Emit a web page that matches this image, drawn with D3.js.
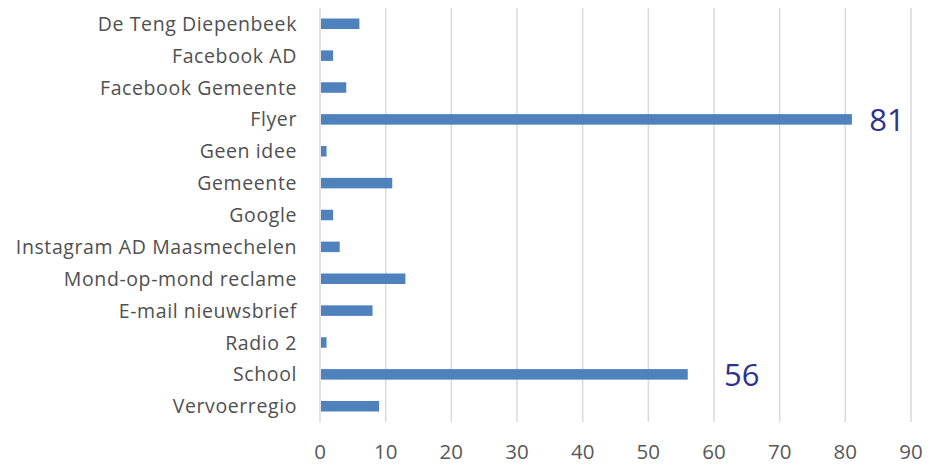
<!DOCTYPE html>
<html>
<head>
<meta charset="utf-8">
<script src="https://cdn.jsdelivr.net/npm/d3@7"></script>
<style>
  body { margin: 0; background: #fff; }
  text { font-family: "Open Sans", "Liberation Sans", sans-serif; }
</style>
</head>
<body>
<div id="chart"></div>
<script>
const categories = ["De Teng Diepenbeek", "Facebook AD", "Facebook Gemeente", "Flyer", "Geen idee",
  "Gemeente", "Google", "Instagram AD Maasmechelen", "Mond-op-mond reclame", "E-mail nieuwsbrief",
  "Radio 2", "School", "Vervoerregio"];
const values = [6, 2, 4, 81, 1, 11, 2, 3, 13, 8, 1, 56, 9];
const xTicks = [0, 10, 20, 30, 40, 50, 60, 70, 80, 90];
const callouts = [{ name: "Flyer", value: 81 }, { name: "School", value: 56 }];
// horizontal gap between bar end and callout centre (px)
const calloutGap = { Flyer: 35, School: 54 };

const W = 931, H = 466;
const svg = d3.select("#chart").append("svg")
  .attr("width", W)
  .attr("height", H)

const x = d3.scaleLinear().domain([0, 90]).range([320, 911]);
const y = d3.scaleBand().domain(categories).range([8, 422]).paddingInner(0.67).paddingOuter(0.33);

// gridlines
svg.append("g").selectAll("line")
  .data(xTicks)
  .join("line")
  .attr("x1", d => x(d)).attr("x2", d => x(d))
  .attr("y1", 8).attr("y2", 422)
  .attr("stroke", "#d9d9d9")
  .attr("stroke-width", 1.5)

// bars
svg.append("g").selectAll("rect")
  .data(categories)
  .join("rect")
  .attr("x", x(0) + 1)
  .attr("y", d => y(d))
  .attr("width", (d, i) => x(values[i]) - x(0) - 1)
  .attr("height", y.bandwidth())
  .attr("fill", "#4f81bd")

// category labels
svg.append("g").selectAll("text")
  .data(categories)
  .join("text")
  .attr("x", 297)
  .attr("y", d => y(d) + y.bandwidth() / 2)
  .attr("dy", "0.36em")
  .attr("text-anchor", "end")
  .attr("font-size", 19.5)
  .attr("letter-spacing", 0.6)
  .attr("fill", "#505050")
  .text(d => d)

// x tick labels
svg.append("g").selectAll("text")
  .data(xTicks)
  .join("text")
  .attr("x", d => x(d))
  .attr("y", 459)
  .attr("text-anchor", "middle")
  .attr("font-size", 20.5)
  .attr("fill", "#595959")
  .text(d => d)

// value callouts
svg.append("g").selectAll("text")
  .data(callouts)
  .join("text")
  .attr("x", d => x(d.value) + calloutGap[d.name])
  .attr("y", d => y(d.name) + y.bandwidth() / 2)
  .attr("dy", "0.36em")
  .attr("text-anchor", "middle")
  .attr("font-size", 31)
  .attr("fill", "#2e3192")
  .text(d => d.value)
</script>
</body>
</html>
